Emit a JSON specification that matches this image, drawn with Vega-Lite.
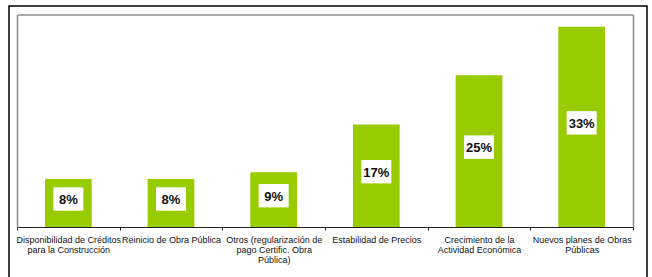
{
  "$schema": "https://vega.github.io/schema/vega-lite/v6.json",
  "width": 638,
  "height": 271,
  "autosize": {"type": "none"},
  "padding": {"left": 9, "top": 6, "right": 5, "bottom": 0},
  "background": "white",
  "data": {
    "values": [
      {"cat": "Disponibilidad de Créditos|para la Construcción", "value": 7.9, "label": "8%"},
      {"cat": "Reinicio de Obra Pública", "value": 7.9, "label": "8%"},
      {"cat": "Otros (regularización de|pago Certific. Obra|Pública)", "value": 9.0, "label": "9%"},
      {"cat": "Estabilidad de Precios", "value": 16.9, "label": "17%"},
      {"cat": "Crecimiento de la|Actividad Económica", "value": 25, "label": "25%"},
      {"cat": "Nuevos planes de Obras|Públicas", "value": 33, "label": "33%"}
    ]
  },
  "config": {
    "font": "Liberation Sans",
    "view": {"stroke": "#000000", "strokeWidth": 1.5, "strokeDash": [909, 638, 300]}
  },
  "layer": [
    {
      "mark": {"type": "bar", "color": "#99CC00", "width": {"band": 0.455}},
      "encoding": {
        "x": {
          "field": "cat", "type": "nominal", "sort": null,
          "scale": {"range": [8, 624], "paddingInner": 0, "paddingOuter": 0},
          "axis": {
            "orient": "bottom", "offset": -50, "title": null,
            "domainColor": "#222222", "domainWidth": 1,
            "tickBand": "extent", "tickColor": "#222222", "tickSize": 3,
            "labelAngle": 0, "labelFontSize": 9, "labelFont": "Liberation Sans",
            "labelColor": "#111111", "labelLineHeight": 10, "labelPadding": 5,
            "labelLimit": 0, "labelOverlap": false, "labelBound": false,
            "labelExpr": "datum.value ? split(datum.value, '|') : ''", "grid": false
          }
        },
        "y": {
          "field": "value", "type": "quantitative",
          "scale": {"domain": [0, 35], "range": [221, 8.5], "nice": false, "zero": true},
          "axis": {"orient": "left", "offset": -8, "title": null, "domainColor": "#8c8c8c", "domainWidth": 1.5, "ticks": false, "labels": false, "grid": false}
        }
      }
    },
    {
      "mark": {"type": "point", "shape": "M-1,-0.78L1,-0.78L1,0.78L-1,0.78Z", "filled": true, "color": "#ffffff", "opacity": 1, "size": 900, "strokeWidth": 0, "yOffset": -4},
      "encoding": {
        "x": {
          "field": "cat", "type": "nominal", "sort": null,
          "axis": {"orient": "top", "offset": -8.5, "title": null, "domainColor": "#8c8c8c", "domainWidth": 1.5, "ticks": false, "labels": false, "grid": false}
        },
        "y": {
          "field": "value", "type": "quantitative",
          "scale": {"domain": [0, 70], "range": [221, 8.5], "nice": false, "zero": true},
          "axis": {"orient": "right", "offset": -14, "title": null, "domainColor": "#8c8c8c", "domainWidth": 1.5, "ticks": false, "labels": false, "grid": false}
        }
      }
    },
    {
      "mark": {"type": "text", "fontWeight": "bold", "fontSize": 13, "font": "Liberation Sans", "color": "#111111", "baseline": "middle", "align": "center", "yOffset": -3},
      "encoding": {
        "x": {"field": "cat", "type": "nominal", "sort": null, "axis": null},
        "y": {
          "field": "value", "type": "quantitative",
          "scale": {"domain": [0, 70], "range": [221, 8.5], "nice": false, "zero": true},
          "axis": null
        },
        "text": {"field": "label"}
      }
    }
  ],
  "resolve": {"scale": {"y": "independent"}, "axis": {"x": "independent", "y": "independent"}}
}
